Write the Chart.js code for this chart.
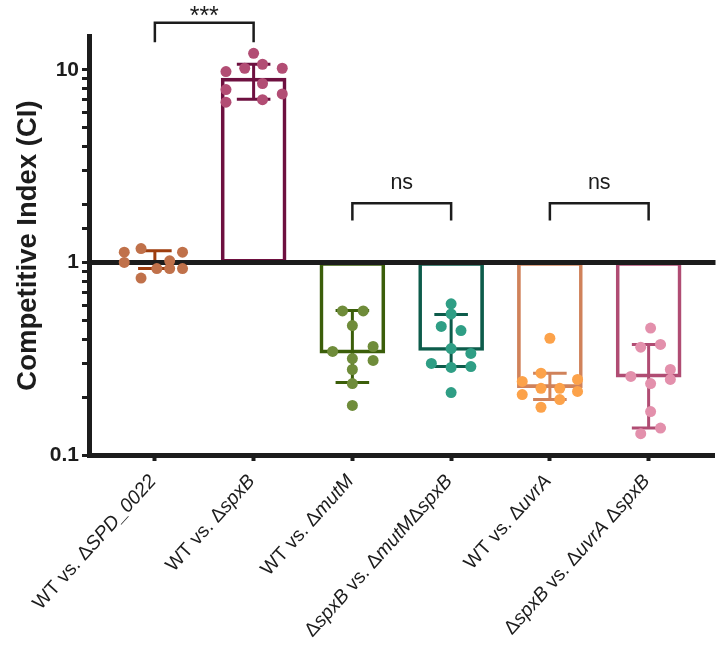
<!DOCTYPE html>
<html>
<head>
<meta charset="utf-8">
<script src="https://cdn.jsdelivr.net/npm/chart.js@4.4.1/dist/chart.umd.min.js"></script>
<style>
  html, body { margin: 0; padding: 0; background: #fff; }
  #wrap { width: 720px; height: 652px; }
</style>
</head>
<body>
<div id="wrap"><canvas id="ciChart" width="720" height="652"></canvas></div>
<script>
// Groups (text in {} is set in italics)
const groupLabels = [
    'WT vs. Δ{SPD_0022}',
    'WT vs. Δ{spxB}',
    'WT vs. Δ{mutM}',
    'Δ{spxB} vs. Δ{mutM}Δ{spxB}',
    'WT vs. Δ{uvrA}',
    'Δ{spxB} vs. Δ{uvrA} Δ{spxB}'
];

// Individual CI values per group, and their horizontal scatter (in category units)
const ciSPD = [1.13, 1.18, 1.13, 1.0, 0.93, 1.02, 0.93, 0.93, 0.83];
const jitSPD = [-0.31, -0.14, 0.28, -0.31, 0.02, 0.15, 0.15, 0.28, -0.14];
const ciSpxB = [12.2, 10.7, 10.2, 9.8, 10.2, 7.9, 8.5, 7.5, 6.8, 7.0];
const jitSpxB = [0, 0.09, -0.09, -0.28, 0.29, -0.28, 0.09, 0.29, -0.28, 0.09];
const ciMutM = [0.56, 0.56, 0.47, 0.345, 0.366, 0.317, 0.31, 0.278, 0.235, 0.181];
const jitMutM = [-0.1, 0.11, 0, -0.2, 0.21, 0, 0.21, 0, 0, 0];
const ciMutMSpxB = [0.61, 0.54, 0.465, 0.443, 0.357, 0.337, 0.299, 0.285, 0.288, 0.211];
const jitMutMSpxB = [0, 0, -0.1, 0.1, 0, 0.2, -0.2, 0, 0.2, 0];
const ciUvrA = [0.404, 0.266, 0.241, 0.247, 0.222, 0.222, 0.206, 0.214, 0.194, 0.177];
const jitUvrA = [0, -0.09, -0.28, 0.28, -0.09, 0.1, -0.28, 0.28, 0.1, -0.09];
const ciUvrASpxB = [0.456, 0.363, 0.375, 0.256, 0.278, 0.235, 0.247, 0.168, 0.138, 0.129];
const jitUvrASpxB = [0.02, -0.08, 0.12, -0.18, 0.22, 0.02, 0.22, 0.02, 0.12, -0.08];

const ciValues = [ciSPD, ciSpxB, ciMutM, ciMutMSpxB, ciUvrA, ciUvrASpxB];
const ciJitter = [jitSPD, jitSpxB, jitMutM, jitMutMSpxB, jitUvrA, jitUvrASpxB];

// Bar height (centre) and error bar ends
const barMeans = [1.02, 9.06, 0.338, 0.349, 0.224, 0.254];
const errHigh = [1.15, 10.7, 0.563, 0.537, 0.266, 0.375];
const errLow = [0.93, 7.03, 0.238, 0.288, 0.194, 0.138];

// Significance brackets
const bracketFrom = [0, 2, 4];
const bracketTo = [1, 3, 5];
const bracketTop = [17.6, 2.03, 2.03];
const bracketFoot = [13.9, 1.65, 1.65];
const bracketText = ['***', 'ns', 'ns'];

const yTickLabels = [0.1, 1, 10];

const barColors = ['#9E3D0E', '#6E1040', '#3B5E0A', '#0D5C4B', '#D0825A', '#B04C73'];
const pointColors = ['#C0714A', '#B24D74', '#6F8C3A', '#2F9E85', '#FCA24A', '#E390AC'];
const ink = '#1c1c1c';
const fam = '"Liberation Sans", Arial, sans-serif';

// error bars + baseline at CI = 1, drawn right after the bars
const errorBarPlugin = {
    id: 'errorBars',
    afterDatasetDraw(chart, args) {
        if (args.meta.type !== 'bar') return;
        const {ctx, scales: {x, y}, chartArea} = chart;
        ctx.save();
        ctx.lineWidth = 3;
        barMeans.forEach((m, i) => {
            const cx = x.getPixelForValue(i);
            const hw = x.getPixelForValue(i + 0.17) - cx;
            const yHi = y.getPixelForValue(errHigh[i]);
            const yLo = y.getPixelForValue(errLow[i]);
            ctx.strokeStyle = barColors[i];
            ctx.beginPath();
            ctx.moveTo(cx, yHi); ctx.lineTo(cx, yLo);
            ctx.moveTo(cx - hw, yHi); ctx.lineTo(cx + hw, yHi);
            ctx.moveTo(cx - hw, yLo); ctx.lineTo(cx + hw, yLo);
            ctx.stroke();
        });
        const y1 = y.getPixelForValue(1);
        ctx.strokeStyle = ink;
        ctx.lineWidth = 5;
        ctx.beginPath();
        ctx.moveTo(chartArea.left, y1);
        ctx.lineTo(chartArea.right + 1, y1);
        ctx.stroke();
        ctx.restore();
    }
};

// rotated category labels with italic gene names
const labelPlugin = {
    id: 'rotLabels',
    afterDraw(chart) {
        const {ctx, scales: {x}} = chart;
        const size = 19.5;
        ctx.save();
        ctx.fillStyle = ink;
        ctx.textBaseline = 'middle';
        ctx.textAlign = 'left';
        groupLabels.forEach((lab, i) => {
            const parts = lab.split(/(\{[^}]*\})/).filter(s => s.length).map(s =>
                s.startsWith('{') ? {t: s.slice(1, -1), it: true} : {t: s, it: false});
            let total = 0;
            parts.forEach(p => {
                ctx.font = (p.it ? 'italic ' : '') + size + 'px ' + fam;
                p.w = ctx.measureText(p.t).width;
                total += p.w;
            });
            ctx.save();
            ctx.translate(x.getPixelForValue(i) - 2, 478);
            ctx.rotate(-48 * Math.PI / 180);
            let pos = -total;
            parts.forEach(p => {
                ctx.font = (p.it ? 'italic ' : '') + size + 'px ' + fam;
                ctx.fillText(p.t, pos, 0);
                pos += p.w;
            });
            ctx.restore();
        });
        ctx.restore();
    }
};

const bracketPlugin = {
    id: 'brackets',
    afterDraw(chart) {
        const {ctx, scales: {x, y}} = chart;
        ctx.save();
        ctx.strokeStyle = ink;
        ctx.fillStyle = ink;
        ctx.lineWidth = 2.5;
        ctx.textAlign = 'center';
        ctx.textBaseline = 'alphabetic';
        bracketFrom.forEach((a, k) => {
            const xa = x.getPixelForValue(a);
            const xb = x.getPixelForValue(bracketTo[k]);
            const yt = y.getPixelForValue(bracketTop[k]);
            const yf = y.getPixelForValue(bracketFoot[k]);
            ctx.beginPath();
            ctx.moveTo(xa, yf); ctx.lineTo(xa, yt); ctx.lineTo(xb, yt); ctx.lineTo(xb, yf);
            ctx.stroke();
            const stars = bracketText[k].startsWith('*');
            ctx.font = (stars ? 25 : 21.5) + 'px ' + fam;
            ctx.fillText(bracketText[k], (xa + xb) / 2, stars ? yt + 1 : yt - 14);
        });
        ctx.restore();
    }
};

const scatterSets = ciValues.map((vals, i) => ({
    type: 'scatter',
    data: vals.map((v, j) => ({x: i + ciJitter[i][j], y: v})),
    backgroundColor: pointColors[i],
    borderWidth: 0,
    pointRadius: 5.5,
    pointHoverRadius: 5.5,
    order: 1
}));

const ctx = document.getElementById('ciChart').getContext('2d');
new Chart(ctx, {
    type: 'scatter',
    data: {
        datasets: [
            {
                type: 'bar',
                data: barMeans.map((m, i) => ({x: i, y: [1, m]})),
                borderColor: barColors,
                backgroundColor: 'rgba(0,0,0,0)',
                borderWidth: 3,
                borderSkipped: false,
                barThickness: 65,
                order: 2
            },
            ...scatterSets
        ]
    },
    options: {
        responsive: false,
        animation: false,
        layout: { padding: { top: 36, right: 3, left: 0, bottom: 0 } },
        plugins: { legend: { display: false }, tooltip: { enabled: false } },
        scales: {
            x: {
                type: 'linear',
                min: -0.667,
                max: 5.667,
                offset: false,
                afterBuildTicks: axis => { axis.ticks = groupLabels.map((_, i) => ({value: i})); },
                afterFit: axis => { axis.height = 197; },
                grid: { drawOnChartArea: false, tickLength: 6, tickWidth: 4, tickColor: ink, offset: false },
                border: { display: true, width: 5, color: ink },
                ticks: { display: false }
            },
            y: {
                type: 'logarithmic',
                min: 0.1,
                max: 15,
                afterBuildTicks: axis => { axis.ticks = axis.ticks.filter(t => t.value <= 10.0001); },
                afterFit: axis => { axis.width = 89; },
                grid: { drawOnChartArea: false, tickLength: 7, tickWidth: 3, tickColor: ink },
                border: { display: true, width: 5, color: ink },
                ticks: {
                    autoSkip: false,
                    padding: 3,
                    color: ink,
                    font: { family: fam, size: 21, weight: 'bold' },
                    callback: v => {
                        const hit = yTickLabels.find(t => Math.abs(v - t) / t < 1e-6);
                        return hit === undefined ? '' : String(hit);
                    }
                },
                title: {
                    display: true,
                    text: 'Competitive Index (CI)',
                    color: ink,
                    padding: { top: 12, bottom: 0 },
                    font: { family: fam, size: 27.5, weight: 'bold' }
                }
            }
        }
    },
    plugins: [errorBarPlugin, labelPlugin, bracketPlugin]
});
</script>
</body>
</html>
